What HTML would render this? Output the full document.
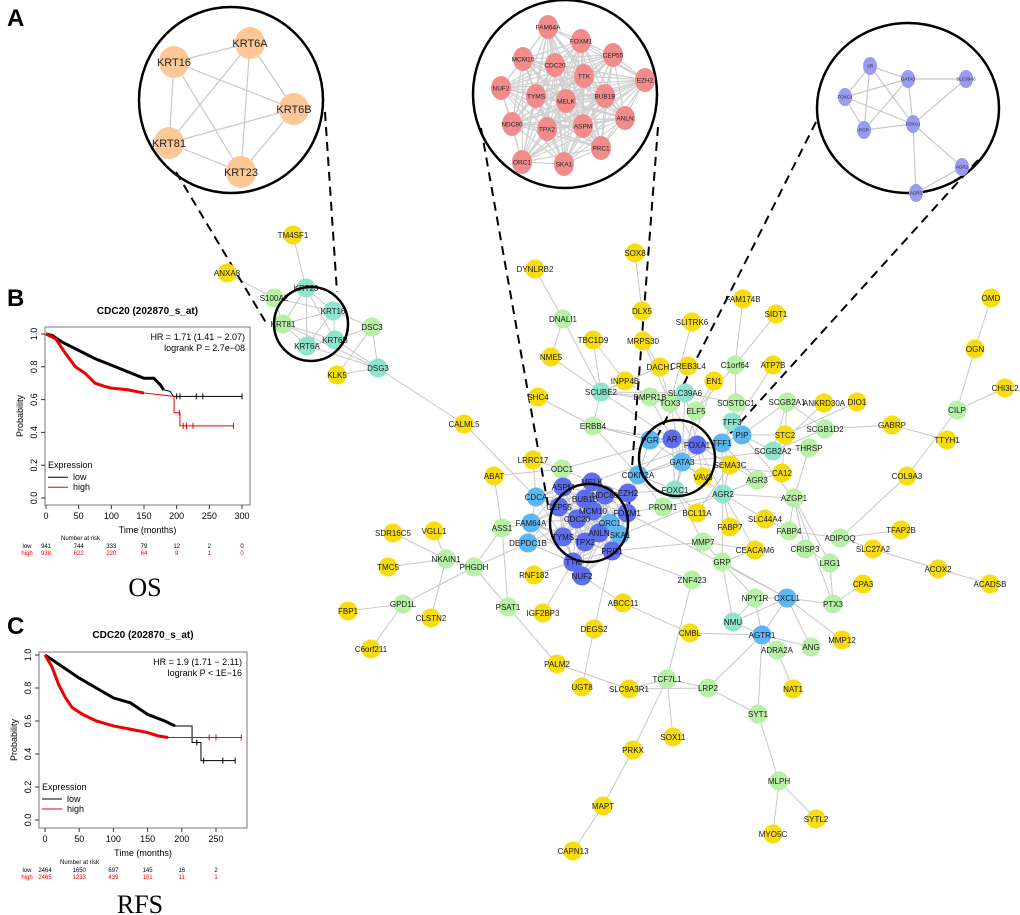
<!DOCTYPE html>
<html><head><meta charset="utf-8">
<style>
html,body{margin:0;padding:0;background:#fff;}
svg{display:block;font-family:"Liberation Sans",sans-serif;}
</style></head>
<body>
<svg id="s" width="1020" height="915" viewBox="0 0 1020 915" xmlns="http://www.w3.org/2000/svg">
<rect width="1020" height="915" fill="#fff"/>
<g id="edges" stroke="#c8c8c8" stroke-width="1" fill="none"></g>
<g id="dash" stroke="#000" stroke-width="2" stroke-dasharray="9,6" fill="none">
<line x1="176" y1="172" x2="268" y2="326"/>
<line x1="325" y1="112" x2="337" y2="292"/>
<line x1="481" y1="128" x2="548" y2="505"/>
<line x1="658" y1="127" x2="629" y2="507"/>
<line x1="816" y1="122" x2="653" y2="445"/>
<line x1="978" y1="160" x2="718" y2="447"/>
</g>
<g id="nodes"></g>
<g fill="none" stroke="#000" stroke-width="2.5">
<circle cx="311" cy="324" r="37"/>
<circle cx="589" cy="523" r="39"/>
<circle cx="677" cy="458" r="38"/>
<ellipse cx="231" cy="100" rx="92" ry="93"/>
<ellipse cx="565" cy="94" rx="92" ry="94"/>
<ellipse cx="908" cy="108" rx="91" ry="85"/>
</g>
<g id="insets"></g>
<text x="7" y="26" font-size="24" font-weight="bold">A</text>
<text x="7" y="306" font-size="24" font-weight="bold">B</text>
<text x="7" y="634" font-size="24" font-weight="bold">C</text>
<text x="145" y="596" font-size="26" font-family="Liberation Serif,serif" text-anchor="middle">OS</text>
<text x="140" y="913" font-size="26" font-family="Liberation Serif,serif" text-anchor="middle">RFS</text>
<g id="km"></g>
</svg>
<script>
var NS="http://www.w3.org/2000/svg";
function el(p,t,a,txt){var e=document.createElementNS(NS,t);for(var k in a)e.setAttribute(k,a[k]);if(txt!=null)e.textContent=txt;p.appendChild(e);return e;}
var C={y:"#f7dc0f",g:"#b8f0a8",m:"#8ee4cc",l:"#5cb6f2",b:"#5c6df0"};
var N={
TM4SF1:[293,235,"y"],ANXA8:[227,273,"y"],S100A2:[274,298,"g"],KRT23:[306,288,"m"],KRT16:[333,311,"m"],KRT81:[283,324,"g"],KRT6B:[335,340,"m"],KRT6A:[307,346,"m"],DSC3:[372,327,"g"],DSG3:[378,368,"m"],KLK5:[337,375,"y"],
DYNLRB2:[535,269,"y"],DNALI1:[563,319,"g"],NME5:[551,357,"y"],TBC1D9:[593,340,"y"],SHC4:[538,397,"y"],SCUBE2:[601,392,"m"],
INPP4B:[625,381,"y"],DACH1:[660,367,"y"],CREB3L4:[688,366,"y"],BMPR1B:[650,397,"g"],TOX3:[670,403,"g"],SLC39A6:[685,393,"m"],EN1:[714,381,"y"],SOSTDC1:[736,403,"g"],ELF5:[696,411,"g"],TFF3:[732,422,"m"],PIP:[742,435,"l"],TFF1:[722,443,"l"],SEMA3C:[730,465,"y"],AGR2:[723,494,"m"],
ERBB4:[593,426,"g"],CALML5:[464,424,"y"],LRRC17:[533,460,"y"],ODC1:[562,469,"g"],ABAT:[494,476,"y"],PROM1:[663,507,"g"],BCL11A:[697,513,"y"],FABP7:[730,527,"y"],
SDR16C5:[393,533,"y"],VGLL1:[434,531,"y"],ASS1:[502,528,"g"],MMP7:[703,542,"g"],TMC5:[388,567,"y"],NKAIN1:[446,559,"g"],PHGDH:[474,567,"g"],RNF182:[534,575,"y"],GRP:[722,562,"g"],ZNF423:[692,580,"g"],
GPD1L:[403,604,"g"],FBP1:[348,611,"y"],CLSTN2:[431,618,"y"],C6orf211:[371,649,"y"],PSAT1:[508,607,"g"],IGF2BP3:[543,613,"y"],
MELK:[592,482,"b"],ASPM:[563,487,"b"],BUB1B:[585,499,"b"],NDC80:[605,495,"b"],EZH2:[628,493,"b"],CDCA8:[536,497,"l"],CEP55:[559,507,"b"],MCM10:[593,511,"b"],FOXM1:[627,513,"b"],CDC20:[577,519,"b"],ORC1:[610,523,"l"],FAM64A:[531,523,"l"],ANLN:[599,533,"b"],SKA1:[620,535,"l"],TYMS:[563,537,"b"],TPX2:[585,542,"b"],DEPDC1B:[528,543,"l"],PRC1:[612,551,"b"],TTK:[573,562,"b"],NUF2:[582,576,"b"],
CDKN2A:[638,475,"l"],PGR:[650,440,"l"],AR:[672,439,"b"],FOXA1:[697,445,"b"],GATA3:[682,462,"l"],VAV3:[703,477,"y"],FOXC1:[675,490,"m"],
SOX8:[635,253,"y"],DLX5:[642,311,"y"],MRPS30:[643,341,"y"],FAM174B:[743,299,"y"],SIDT1:[776,314,"y"],SLITRK6:[692,322,"y"],C1orf64:[735,365,"g"],ATP7B:[773,365,"y"],
SCGB2A1:[787,402,"g"],ANKRD30A:[824,403,"y"],DIO1:[857,402,"y"],SCGB1D2:[825,429,"g"],STC2:[785,435,"y"],THRSP:[809,448,"g"],SCGB2A2:[773,451,"m"],CA12:[782,473,"y"],AGR3:[757,480,"g"],AZGP1:[794,498,"g"],SLC44A4:[765,519,"y"],FABP4:[789,531,"g"],ADIPOQ:[840,538,"g"],TFAP2B:[901,530,"y"],SLC27A2:[873,549,"y"],CRISP3:[805,549,"g"],LRG1:[830,563,"g"],CEACAM6:[755,550,"y"],
GABRP:[892,425,"y"],TTYH1:[947,440,"y"],COL9A3:[907,476,"y"],CILP:[957,410,"g"],OGN:[975,349,"y"],OMD:[991,298,"y"],CHI3L2:[1005,388,"y"],ACOX2:[938,569,"y"],ACADSB:[990,584,"y"],CPA3:[863,584,"y"],
ABCC11:[623,603,"y"],DEGS2:[594,629,"y"],PALM2:[557,664,"y"],UGT8:[582,687,"y"],SLC9A3R1:[629,689,"y"],TCF7L1:[667,679,"g"],LRP2:[708,688,"g"],CMBL:[690,633,"y"],NPY1R:[755,598,"g"],CXCL1:[787,598,"l"],PTX3:[833,604,"g"],NMU:[733,622,"m"],AGTR1:[762,635,"l"],ADRA2A:[777,650,"g"],ANG:[811,647,"g"],MMP12:[842,640,"y"],NAT1:[793,689,"y"],SYT1:[758,714,"g"],SOX11:[673,737,"y"],PRKX:[633,750,"y"],MAPT:[603,806,"y"],CAPN13:[573,851,"y"],MLPH:[779,781,"g"],SYTL2:[816,819,"y"],MYO5C:[773,834,"y"]
};
var LBL={CDCA8:"CDCA"};
var E="TM4SF1-KRT23 ANXA8-S100A2 S100A2-KRT81 S100A2-KRT23 S100A2-KRT16 KRT23-KRT16 KRT23-KRT81 KRT23-KRT6B KRT23-KRT6A KRT16-KRT81 KRT16-KRT6B KRT16-KRT6A KRT81-KRT6B KRT81-KRT6A KRT6B-KRT6A KRT16-DSC3 KRT6B-DSC3 KRT6A-DSG3 KRT6B-DSG3 DSC3-DSG3 KLK5-DSG3 KLK5-DSC3 KRT81-DSG3 DSG3-CALML5 CALML5-CDCA8 "+
"DYNLRB2-DNALI1 DNALI1-NME5 DNALI1-SCUBE2 NME5-SCUBE2 TBC1D9-SCUBE2 TBC1D9-INPP4B SCUBE2-ERBB4 SCUBE2-INPP4B SCUBE2-BMPR1B SCUBE2-TOX3 SCUBE2-AR SCUBE2-SLC39A6 SHC4-ERBB4 ERBB4-CDKN2A ERBB4-FOXA1 ERBB4-PGR ODC1-LRRC17 ODC1-ABAT ODC1-AR ODC1-MELK LRRC17-CDCA8 ABAT-ASS1 ASS1-PHGDH ASS1-PSAT1 ASS1-FAM64A PHGDH-NKAIN1 PHGDH-PSAT1 PHGDH-DEPDC1B PHGDH-GPD1L NKAIN1-SDR16C5 NKAIN1-VGLL1 NKAIN1-TMC5 NKAIN1-CLSTN2 GPD1L-FBP1 GPD1L-C6orf211 PSAT1-PALM2 RNF182-TTK IGF2BP3-TTK DEGS2-PRC1 DEGS2-UGT8 ABCC11-NUF2 ABCC11-CMBL PALM2-SLC9A3R1 CMBL-AGTR1 ZNF423-TCF7L1 ZNF423-PRC1 "+
"SOX8-DLX5 DLX5-MRPS30 MRPS30-DACH1 MRPS30-TOX3 SLITRK6-TOX3 FAM174B-C1orf64 SIDT1-C1orf64 C1orf64-SOSTDC1 C1orf64-ELF5 DACH1-TOX3 DACH1-SCUBE2 CREB3L4-SLC39A6 INPP4B-BMPR1B BMPR1B-AR BMPR1B-TOX3 TOX3-FOXA1 TOX3-GATA3 SLC39A6-GATA3 SLC39A6-FOXA1 SLC39A6-PGR SLC39A6-SOSTDC1 EN1-FOXC1 EN1-ELF5 ELF5-FOXC1 ELF5-GATA3 SOSTDC1-TFF3 ATP7B-TFF1 TFF3-TFF1 TFF3-PIP PIP-TFF1 PIP-SCGB2A1 PIP-SCGB2A2 PIP-AZGP1 PIP-STC2 TFF1-SEMA3C TFF1-AGR2 TFF1-AGR3 TFF1-GATA3 TFF1-FOXA1 TFF1-AR TFF1-CDKN2A SCGB2A1-SCGB2A2 SCGB2A1-STC2 ANKRD30A-SCGB2A2 DIO1-STC2 SCGB1D2-SCGB2A2 SCGB1D2-GABRP SCGB1D2-SCGB2A1 GABRP-TTYH1 STC2-CA12 THRSP-AZGP1 THRSP-SCGB2A2 AZGP1-FABP4 AZGP1-AGR2 AZGP1-CRISP3 AZGP1-LRG1 AZGP1-PTX3 FABP4-ADIPOQ ADIPOQ-TFAP2B ADIPOQ-COL9A3 COL9A3-CILP CILP-OGN OGN-OMD CILP-CHI3L2 SLC27A2-ADIPOQ SLC27A2-ACOX2 ACOX2-ACADSB LRG1-CRISP3 LRG1-PTX3 PTX3-CXCL1 CXCL1-NMU CXCL1-AGTR1 CXCL1-ANG CXCL1-MMP12 CXCL1-NPY1R CXCL1-GRP AGTR1-ADRA2A AGTR1-NPY1R AGTR1-NMU AGTR1-ANG AGTR1-LRP2 AGTR1-SYT1 ADRA2A-NAT1 NMU-NPY1R NMU-GRP NPY1R-GRP GRP-MMP7 GRP-CEACAM6 GRP-AGR2 MMP7-FOXC1 CEACAM6-AGR2 FABP7-AGR2 SLC44A4-AGR2 SLC44A4-FABP4 BCL11A-FOXC1 BCL11A-SEMA3C PROM1-CDKN2A PROM1-FOXM1 PROM1-AGR2 PROM1-FOXC1 TCF7L1-LRP2 TCF7L1-SOX11 TCF7L1-PRKX TCF7L1-SLC9A3R1 SLC9A3R1-LRP2 PRKX-MAPT MAPT-CAPN13 SYT1-MLPH MLPH-MYO5C MLPH-SYTL2 LRP2-SYT1 CDKN2A-EZH2 CDKN2A-FOXM1 CDKN2A-GATA3 CDKN2A-PGR CDKN2A-AR CDKN2A-FOXC1 GATA3-FOXA1 AR-FOXA1 AR-GATA3 PGR-GATA3 PGR-AR PGR-FOXA1 VAV3-GATA3 VAV3-FOXA1 FOXC1-GATA3 FOXC1-AR AGR2-AGR3 AGR2-GATA3 AGR2-FOXA1 SEMA3C-FOXA1 SEMA3C-AGR2 AGR3-FOXA1 CA12-GATA3 CA12-AGR3 SCGB2A2-GATA3 SKA1-AGR2 MELK-FOXA1 EZH2-FOXC1 FOXM1-CXCL1 PRC1-MMP7 MMP7-CEACAM6 CPA3-PTX3";
var eg=document.getElementById("edges");
E.split(" ").forEach(function(p){var q=p.split("-");var a=N[q[0]],b=N[q[1]];if(a&&b)el(eg,"line",{x1:a[0],y1:a[1],x2:b[0],y2:b[1]});});
var cl=["MELK","ASPM","BUB1B","NDC80","EZH2","CDCA8","CEP55","MCM10","FOXM1","CDC20","ORC1","FAM64A","ANLN","SKA1","TYMS","TPX2","DEPDC1B","PRC1","TTK","NUF2"];
for(var i=0;i<cl.length;i++)for(var j=i+1;j<cl.length;j++){var a=N[cl[i]],b=N[cl[j]];if(Math.hypot(a[0]-b[0],a[1]-b[1])<60)el(eg,"line",{x1:a[0],y1:a[1],x2:b[0],y2:b[1]});}
var ng=document.getElementById("nodes");
for(var k in N){var n=N[k];el(ng,"circle",{cx:n[0],cy:n[1],r:9.5,fill:C[n[2]]});}
for(var k in N){var n=N[k];el(ng,"text",{x:n[0],y:n[1]+3,"font-size":"8","text-anchor":"middle",fill:"#1a1a1a"},LBL[k]||k);}
// insets
var ig=document.getElementById("insets");
function inset(nodes,edges,r,col,fs,ecol){
  var g=el(ig,"g",{});
  edges.forEach(function(p){var a=nodes[p[0]],b=nodes[p[1]];el(g,"line",{x1:a[0],y1:a[1],x2:b[0],y2:b[1],stroke:ecol,"stroke-width":1.2});});
  for(var k in nodes){var n=nodes[k];el(g,"ellipse",{cx:n[0],cy:n[1],rx:r[0],ry:r[1],fill:col});}
  for(var k in nodes){var n=nodes[k];el(g,"text",{x:n[0],y:n[1]+fs*0.35,"font-size":fs,"text-anchor":"middle",fill:"#222"},k);}
}
var I1={KRT6A:[250,43],KRT16:[174,62],KRT6B:[294,109],KRT81:[169,143],KRT23:[241,172]};
var k1=Object.keys(I1),e1=[];for(var i=0;i<5;i++)for(var j=i+1;j<5;j++)e1.push([k1[i],k1[j]]);
inset(I1,e1,[15,16],"#fdc896",11,"#c8c8c8");
var I2={FAM64A:[548,27],FOXM1:[581,41],CEP55:[613,55],MCM10:[523,59],CDC20:[555,65],TTK:[584,76],EZH2:[645,80],NUF2:[501,88],TYMS:[536,96],MELK:[566,101],BUB1B:[605,96],ANLN:[625,118],NDC80:[512,124],TPX2:[547,129],ASPM:[583,126],PRC1:[601,148],ORC1:[522,162],SKA1:[564,164]};
var k2=Object.keys(I2),e2=[];for(var i=0;i<k2.length;i++)for(var j=i+1;j<k2.length;j++)e2.push([k2[i],k2[j]]);
inset(I2,e2,[10,12],"#f28b8c",6.5,"#d0d0d0");
var I3={AR:[870,66],GATA3:[908,79],SLC39A6:[966,79],FOXC1:[845,97],FOXA1:[913,124],PGR:[864,130],AGR2:[962,167],AGR3:[916,193]};
inset(I3,[["AR","GATA3"],["AR","FOXC1"],["AR","PGR"],["AR","FOXA1"],["GATA3","SLC39A6"],["GATA3","FOXA1"],["GATA3","PGR"],["GATA3","FOXC1"],["FOXC1","FOXA1"],["FOXC1","PGR"],["PGR","FOXA1"],["SLC39A6","FOXA1"],["FOXA1","AGR2"],["FOXA1","AGR3"],["AGR2","AGR3"]],[7,9],"#9a9af0",4.5,"#c8c8c8");
// KM plots
var kg=document.getElementById("km");
function km(o){
  var g=el(kg,"g",{});
  var X=function(t){return o.x0+t*o.sx;},Y=function(p){return o.y1-(o.y1-o.y0)*p;};
  el(g,"text",{x:(o.bx0+o.bx1)/2,y:o.ty,"font-size":"10","font-weight":"bold","text-anchor":"middle"},"CDC20 (202870_s_at)");
  el(g,"rect",{x:o.bx0,y:o.by0,width:o.bx1-o.bx0,height:o.by1-o.by0,fill:"none",stroke:"#777","stroke-width":1});
  [0,0.2,0.4,0.6,0.8,1].forEach(function(p){var y=Y(p);el(g,"line",{x1:o.bx0-4,y1:y,x2:o.bx0,y2:y,stroke:"#333"});
    el(g,"text",{x:o.bx0-8,y:y,"font-size":"9","text-anchor":"middle",transform:"rotate(-90 "+(o.bx0-8)+" "+y+")"},p.toFixed(1));});
  o.xt.forEach(function(t){var x=X(t);el(g,"line",{x1:x,y1:o.by1,x2:x,y2:o.by1+4,stroke:"#333"});el(g,"text",{x:x,y:o.by1+14,"font-size":"9","text-anchor":"middle"},t);});
  el(g,"text",{x:(o.bx0+o.bx1)/2,y:o.by1+28,"font-size":"9","text-anchor":"middle"},"Time (months)");
  var ly=(o.by0+o.by1)/2;el(g,"text",{x:o.bx0-22,y:ly,"font-size":"9","text-anchor":"middle",transform:"rotate(-90 "+(o.bx0-22)+" "+ly+")"},"Probability");
  el(g,"text",{x:o.bx1-5,y:o.by0+13,"font-size":"9","text-anchor":"end"},o.hr);
  el(g,"text",{x:o.bx1-5,y:o.by0+24,"font-size":"9","text-anchor":"end"},o.p);
  el(g,"text",{x:o.bx0+3,y:Y(0.2)+3,"font-size":"9"},"Expression");
  el(g,"line",{x1:o.bx0+3,y1:Y(0.2)+12,x2:o.bx0+23,y2:Y(0.2)+12,stroke:"#000"});
  el(g,"text",{x:o.bx0+28,y:Y(0.2)+15,"font-size":"9"},"low");
  el(g,"line",{x1:o.bx0+3,y1:Y(0.2)+22,x2:o.bx0+23,y2:Y(0.2)+22,stroke:"#e00"});
  el(g,"text",{x:o.bx0+28,y:Y(0.2)+25,"font-size":"9"},"high");
  function curve(pts,col,w){var d="";var last=null;pts.forEach(function(p,i){var x=X(p[0]),y=Y(p[1]);if(i==0)d="M"+x+","+y;else{d+=" L"+x+","+y;}});el(g,"path",{d:d,stroke:col,"stroke-width":w,fill:"none"});}
  curve(o.lo,"#000",1); curve(o.hi,"#e00",1);
  curve(o.lo.filter(function(p){return p[0]<=o.dl;}),"#000",3);
  curve(o.hi.filter(function(p){return p[0]<=o.dh;}),"#e00",3);
  o.ticks.forEach(function(t){var x=X(t[0]),y=Y(t[1]);el(g,"line",{x1:x,y1:y-3,x2:x,y2:y+3,stroke:t[2],"stroke-width":1});});
  el(g,"text",{x:o.bx0+(o.x0-o.bx0)+15,y:o.ry,"font-size":"6","text-anchor":"start"},"Number at risk");
  el(g,"text",{x:27,y:o.ry+8,"font-size":"6","text-anchor":"middle"},"low");
  el(g,"text",{x:27,y:o.ry+15,"font-size":"6","text-anchor":"middle",fill:"#e00"},"high");
  o.rt.forEach(function(t,i){el(g,"text",{x:X(t),y:o.ry+8,"font-size":"6","text-anchor":"middle"},o.rl[i]);el(g,"text",{x:X(t),y:o.ry+15,"font-size":"6","text-anchor":"middle",fill:"#e00"},o.rh[i]);});
}
km({x0:46,sx:196/300,y0:334,y1:498,bx0:45,bx1:250,by0:327,by1:505,ty:314,xt:[0,50,100,150,200,250,300],
 hr:"HR = 1.71 (1.41 − 2.07)",p:"logrank P = 2.7e−08",
 lo:[[0,1],[10,0.99],[25,0.95],[50,0.9],[75,0.85],[100,0.81],[125,0.77],[150,0.73],[165,0.73],[175,0.69],[180,0.66],[190,0.65],[195,0.62],[300,0.62]],
 hi:[[0,1],[15,0.97],[30,0.88],[45,0.8],[60,0.76],[75,0.7],[90,0.68],[100,0.67],[125,0.66],[150,0.64],[196,0.62],[196,0.52],[205,0.52],[205,0.44],[287,0.44]],
 dl:185,dh:190,ticks:[[200,0.62,"#000"],[205,0.62,"#000"],[230,0.62,"#000"],[240,0.62,"#000"],[300,0.62,"#000"],[204,0.52,"#e00"],[210,0.44,"#e00"],[215,0.44,"#e00"],[225,0.44,"#e00"],[287,0.44,"#e00"]],
 ry:540,rt:[0,50,100,150,200,250,300],rl:["941","744","333","79","12","2","0"],rh:["938","622","220","64","9","1","0"]});
km({x0:45,sx:171/250,y0:655,y1:820,bx0:39,bx1:247,by0:652,by1:828,ty:638,xt:[0,50,100,150,200,250],
 hr:"HR = 1.9 (1.71 − 2.11)",p:"logrank P < 1E−16",
 lo:[[0,1],[25,0.93],[50,0.86],[75,0.8],[100,0.74],[125,0.71],[150,0.64],[175,0.6],[190,0.57],[215,0.57],[215,0.47],[228,0.47],[228,0.36],[278,0.36]],
 hi:[[0,1],[10,0.93],[20,0.82],[30,0.74],[40,0.68],[55,0.64],[75,0.6],[100,0.57],[125,0.55],[150,0.53],[165,0.51],[180,0.5],[287,0.5]],
 dl:205,dh:200,ticks:[[222,0.47,"#000"],[232,0.36,"#000"],[260,0.36,"#000"],[278,0.36,"#000"],[240,0.5,"#e00"],[250,0.5,"#e00"],[287,0.5,"#e00"]],
 ry:864,rt:[0,50,100,150,200,250],rl:["2464","1650","697","145","16","2"],rh:["2465","1233","439","101","11","1"]});
</script>
</body></html>
